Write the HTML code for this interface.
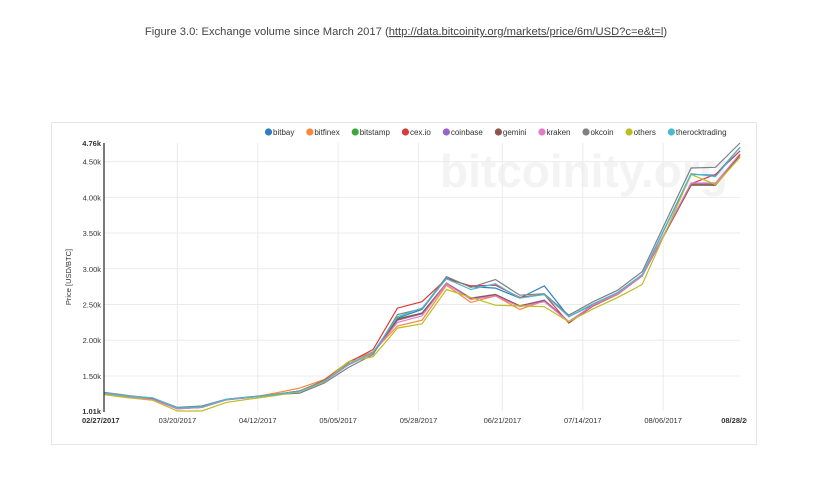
<!DOCTYPE html>
<html><head><meta charset="utf-8"><style>
body{margin:0;background:#fff;font-family:"Liberation Sans",sans-serif;}
#wrap{position:relative;width:820px;height:485px;overflow:hidden;}
</style></head><body>
<div id="wrap">
<svg id="svg" width="820" height="485" xmlns="http://www.w3.org/2000/svg">
<defs><clipPath id="clipR"><rect x="0" y="0" width="747" height="485"/></clipPath></defs>
<text x="406" y="35" text-anchor="middle" font-size="11.2" fill="#444">Figure 3.0: Exchange volume since March 2017 (<tspan text-decoration="underline">http://data.bitcoinity.org/markets/price/6m/USD?c=e&amp;t=l</tspan>)</text>
<rect x="51.5" y="122.5" width="705" height="322" fill="#fff" stroke="#e6e6e6"/>
<text x="440" y="187" font-size="46" font-weight="bold" fill="#f3f3f3">bitcoinity.org</text>
<g id="grid"></g><g id="lines"></g><g id="axes"></g><g id="legend"></g>
</svg>
</div>
<script>
const dayOffsets=[0,7,14,21,28,35,42,49,56,63,70,77,84,91,98,105,112,119,126,133,140,147,154,168,175,182];
const seriesNames=["bitbay","bitfinex","bitstamp","cex.io","coinbase","gemini","kraken","okcoin","others","therocktrading"];
const seriesColors=["#2f7ec1","#f7893a","#3aa93a","#d93a3a","#9a63c9","#8c564b","#e57ac6","#808080","#bdbd22","#4ab9d0"];
const bitbay=[1265,1220,1185,1056,1070,1172,1205,1242,1290,1430,1665,1830,2310,2430,2870,2750,2730,2590,2760,2330,2500,2660,2915,4320,4310,4700];
const bitfinex=[1250,1210,1170,1040,1060,1165,1200,1260,1330,1450,1700,1840,2200,2280,2770,2530,2620,2430,2550,2250,2480,2640,2900,4170,4170,4570];
const bitstamp=[1260,1215,1180,1050,1065,1170,1205,1240,1290,1425,1660,1820,2300,2380,2800,2590,2640,2480,2560,2260,2490,2650,2905,4180,4180,4600];
const cexio=[1265,1220,1180,1045,1060,1170,1205,1240,1290,1440,1690,1870,2450,2540,2860,2760,2770,2600,2640,2240,2480,2650,2900,4190,4320,4650];
const coinbase=[1258,1212,1175,1045,1062,1168,1203,1238,1288,1425,1660,1825,2280,2370,2800,2590,2640,2480,2560,2260,2490,2650,2900,4190,4190,4600];
const gemini=[1258,1212,1175,1045,1062,1168,1203,1238,1288,1425,1660,1825,2290,2380,2790,2580,2640,2480,2550,2260,2490,2650,2900,4170,4170,4590];
const kraken=[1255,1210,1170,1040,1060,1165,1200,1236,1286,1420,1655,1820,2250,2340,2790,2570,2620,2470,2540,2260,2490,2650,2900,4200,4200,4610];
const okcoin=[1270,1225,1190,1060,1080,1175,1210,1240,1260,1400,1620,1800,2360,2440,2890,2740,2850,2630,2650,2350,2540,2700,2960,4410,4420,4760];
const others=[1240,1195,1160,1010,1010,1130,1180,1225,1280,1420,1700,1770,2170,2230,2710,2600,2490,2480,2470,2260,2440,2600,2780,4320,4180,4560];
const therocktrading=[1262,1218,1195,1050,1068,1172,1205,1240,1285,1428,1662,1830,2330,2450,2860,2710,2790,2590,2640,2330,2510,2670,2920,4330,4290,4700];
const seriesData=[bitbay,bitfinex,bitstamp,cexio,coinbase,gemini,kraken,okcoin,others,therocktrading];
const yTicks=[1010,1500,2000,2500,3000,3500,4000,4500,4760];
const yTickLabels=["1.01k","1.50k","2.00k","2.50k","3.00k","3.50k","4.00k","4.50k","4.76k"];
const xTickDays=[0,21,44,67,90,114,137,160,182];
const xTickLabels=["02/27/2017","03/20/2017","04/12/2017","05/05/2017","05/28/2017","06/21/2017","07/14/2017","08/06/2017","08/28/2017"];

const NS="http://www.w3.org/2000/svg";
const X0=104,X1=740,Y0=411,Y1=143;
function xs(d){return X0+(X1-X0)*d/182;}
function ys(v){return Y0-(Y0-Y1)*(v-1010)/(4760-1010);}
function mk(tag,attrs,parent){const e=document.createElementNS(NS,tag);for(const k in attrs)e.setAttribute(k,attrs[k]);parent.appendChild(e);return e;}
const grid=document.getElementById('grid'),lines=document.getElementById('lines'),axes=document.getElementById('axes'),legend=document.getElementById('legend');
yTicks.forEach((v,i)=>{
  if(i>0&&i<yTicks.length-1){const g=mk('line',{x1:X0,x2:X1,y1:ys(v),y2:ys(v),stroke:'#ebebeb','stroke-width':1},grid);
  
  }
  const t=mk('text',{x:X0-3,y:ys(v)+3,'text-anchor':'end','font-size':7.5,fill:'#333','font-weight':(i==0||i==yTicks.length-1)?'bold':'normal'},axes);
  t.textContent=yTickLabels[i];
  
  
});
xTickDays.forEach((d,i)=>{
  if(i>0&&i<xTickDays.length-1){const g=mk('line',{x1:xs(d),x2:xs(d),y1:Y1,y2:Y0,stroke:'#ebebeb','stroke-width':1},grid);
  
  }
  const t=mk('text',{x:i==0?X0-22:xs(d),y:423,'text-anchor':i==0?'start':'middle','font-size':7.5,fill:'#333','font-weight':(i==0||i==xTickDays.length-1)?'bold':'normal','clip-path':'url(#clipR)'},axes);
  t.textContent=xTickLabels[i];
  
  
});
const ax=mk('line',{x1:X0,x2:X0,y1:Y1,y2:Y0+1,stroke:'#333','stroke-width':1.3},axes);


const yl=mk('text',{x:0,y:0,transform:'translate(71,277) rotate(-90)','text-anchor':'middle','font-size':7.5,fill:'#333'},axes);
yl.textContent='Price [USD/BTC]';


seriesData.forEach((arr,si)=>{
  const p=arr.map((v,i)=>(i?'L':'M')+xs(dayOffsets[i]).toFixed(1)+','+ys(v).toFixed(1)).join('');
  const l=mk('path',{d:p,fill:'none',stroke:seriesColors[si],'stroke-width':1.2},lines);
  
  
});
let lx=265;
seriesNames.forEach((n,si)=>{
  const g=mk('g',{},legend);
  
  
  mk('circle',{cx:lx+3.5,cy:132,r:3.6,fill:seriesColors[si]},g);
  const t=mk('text',{x:lx+8,y:135,'font-size':8,fill:'#333'},g);
  t.textContent=n;
  lx+=8+t.getComputedTextLength()+12;
});
</script>
</body></html>
